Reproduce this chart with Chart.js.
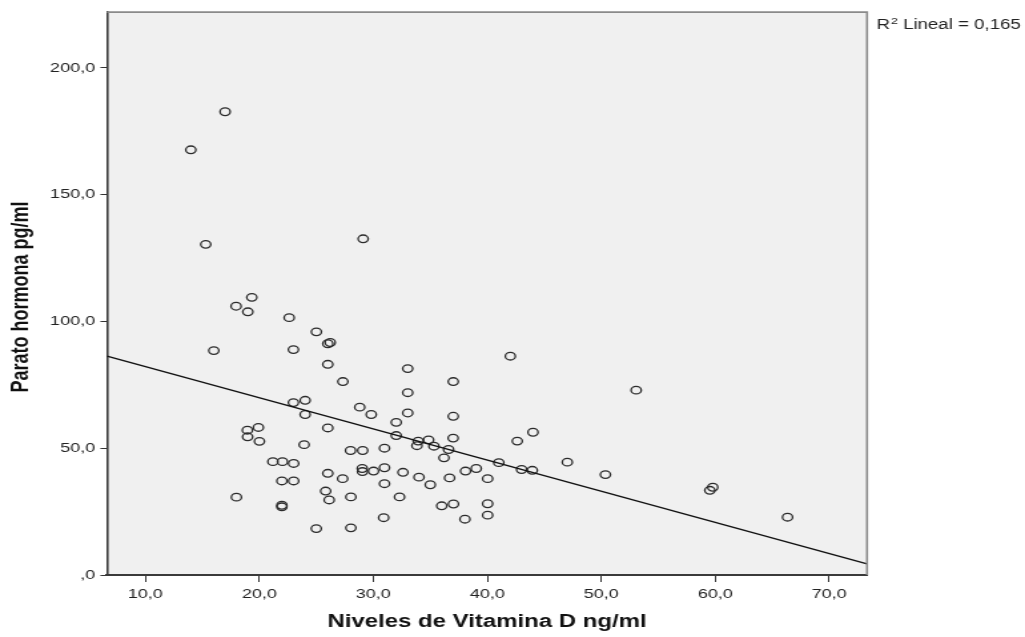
<!DOCTYPE html>
<html>
<head>
<meta charset="utf-8">
<script src="https://cdn.jsdelivr.net/npm/chart.js@4/dist/chart.umd.min.js"></script>
<style>
  html, body { margin: 0; padding: 0; background: #ffffff; overflow: hidden; }
  /* the chart is laid out on a narrower canvas and widened to the page width */
  #wrap { position: absolute; left: 0; top: 0; width: 770px; height: 637px;
          transform: scale(1.33117, 1); transform-origin: 0 0; }
  canvas { display: block; }
</style>
</head>
<body>
<div id="wrap"><canvas id="c" width="770" height="637"></canvas></div>
<script>
// Niveles de vitamina D (ng/ml) and parathormone (pg/ml), one entry per patient
const vitaminD = [
  17.0, 13.99, 15.3, 29.11, 19.34, 17.96, 18.99, 22.62, 25.01, 26.01,
  26.22, 16.01, 22.99, 26.01, 33.02, 27.33, 37.01, 33.02, 24.02, 22.99,
  24.02, 28.81, 29.82, 33.02, 37.01, 32.01, 19.92, 18.95, 18.97, 20.01,
  26.01, 32.01, 37.0, 23.93, 33.94, 34.85, 33.83, 35.32, 36.6, 36.2,
  30.98, 28.0, 29.07, 41.01, 21.19, 22.03, 23.01, 26.01, 27.31, 29.03,
  29.05, 30.02, 30.98, 32.6, 34.01, 35.0, 36.69, 38.09, 39.03, 40.03,
  21.98, 23.01, 30.98, 17.99, 25.82, 26.13, 28.03, 32.3, 21.98, 21.98,
  36.0, 37.03, 40.03, 30.91, 38.04, 40.03, 25.0, 28.03, 42.02, 53.06,
  44.01, 42.63, 43.01, 43.95, 47.02, 50.36, 59.78, 59.52, 66.34
];
const pth = [
  182.7, 167.7, 130.4, 132.6, 109.5, 106.0, 103.8, 101.5, 95.9, 91.2,
  91.7, 88.5, 88.9, 83.1, 81.4, 76.3, 76.3, 71.9, 68.9, 68.0,
  63.3, 66.2, 63.3, 63.9, 62.6, 60.2, 58.2, 57.1, 54.5, 52.7,
  58.0, 55.0, 54.0, 51.4, 52.8, 53.3, 51.0, 50.8, 49.5, 46.2,
  50.0, 49.1, 49.1, 44.3, 44.7, 44.7, 44.0, 40.1, 38.0, 42.0,
  40.8, 41.0, 42.3, 40.5, 38.6, 35.6, 38.3, 41.0, 42.0, 38.0,
  37.1, 37.1, 36.0, 30.7, 33.1, 29.6, 30.8, 30.8, 27.5, 26.9,
  27.3, 28.0, 28.1, 22.6, 22.0, 23.6, 18.3, 18.6, 86.3, 72.9,
  56.3, 52.8, 41.6, 41.3, 44.5, 39.6, 34.6, 33.4, 22.8
];

// Axis ticks and labels
const xTickValues = [10, 20, 30, 40, 50, 60, 70];
const xTickLabels = ['10,0', '20,0', '30,0', '40,0', '50,0', '60,0', '70,0'];
const yTickValues = [0, 50, 100, 150, 200];
const yTickLabels = [',0', '50,0', '100,0', '150,0', '200,0'];
const xRange = [6.64, 73.31];
const yRange = [0, 222];

// Linear fit line
const fitIntercept = 94.45;
const fitSlope = -1.229;
const fitLabel = ['R', '2', ' Lineal = 0,165'];

const xTitle = 'Niveles de Vitamina D ng/ml';
const yTitle = 'Parato hormona pg/ml';

const FONT = '"Liberation Sans", Arial, Helvetica, sans-serif';

const points = vitaminD.map((x, i) => ({ x: x, y: pth[i] }));
const fitLine = xRange.map(x => ({ x: x, y: fitIntercept + fitSlope * x }));

const frame = {
  id: 'frame',
  beforeDraw(chart) {
    const a = chart.chartArea, ctx = chart.ctx;
    ctx.save();
    ctx.fillStyle = '#f0f0f0';
    ctx.fillRect(a.left, a.top, a.right - a.left, a.bottom - a.top);
    ctx.restore();
  },
  afterDraw(chart) {
    const a = chart.chartArea, ctx = chart.ctx;
    ctx.save();
    // top and right edges of the plot frame
    ctx.strokeStyle = '#8a8a8a';
    ctx.lineWidth = 1.6;
    ctx.beginPath();
    ctx.moveTo(a.left, a.top);
    ctx.lineTo(a.right, a.top);
    ctx.lineTo(a.right, a.bottom);
    ctx.stroke();

    // axis titles
    ctx.fillStyle = '#111';
    ctx.font = 'bold 18px ' + FONT;
    ctx.textAlign = 'center';
    ctx.textBaseline = 'middle';
    ctx.fillText(xTitle, (a.left + a.right) / 2, 622);

    ctx.save();
    ctx.translate(16.5, 297);
    ctx.rotate(-Math.PI / 2);
    ctx.font = 'bold 18px ' + FONT;
    ctx.fillText(yTitle, 0, 0);
    ctx.restore();

    // fit legend text
    ctx.textAlign = 'left';
    ctx.textBaseline = 'alphabetic';
    ctx.fillStyle = '#222';
    let x = 658.6;
    ctx.font = '14px ' + FONT;
    ctx.fillText(fitLabel[0], x, 28.5);
    x += ctx.measureText(fitLabel[0]).width + 0.5;
    ctx.font = '9.5px ' + FONT;
    ctx.fillText(fitLabel[1], x, 23.5);
    x += ctx.measureText(fitLabel[1]).width;
    ctx.font = '14px ' + FONT;
    ctx.fillText(fitLabel[2], x, 28.5);
    ctx.restore();
  }
};

new Chart(document.getElementById('c'), {
  data: {
    datasets: [
      {
        type: 'scatter',
        data: points,
        pointStyle: 'circle',
        pointRadius: 3.8,
        pointBorderWidth: 1.3,
        pointBorderColor: '#2b2b2b',
        pointBackgroundColor: 'rgba(0,0,0,0)',
        order: 2
      },
      {
        type: 'line',
        data: fitLine,
        borderColor: '#111',
        borderWidth: 1.4,
        pointRadius: 0,
        fill: false,
        order: 1
      }
    ]
  },
  options: {
    responsive: false,
    animation: false,
    devicePixelRatio: 1,
    layout: { padding: { left: 0, top: 11, right: 118.7, bottom: 0 } },
    plugins: { legend: { display: false }, tooltip: { enabled: false } },
    scales: {
      x: {
        type: 'linear',
        min: xRange[0],
        max: xRange[1],
        afterBuildTicks: s => { s.ticks = xTickValues.map(v => ({ value: v })); },
        afterFit: s => { s.height = 62; },
        ticks: {
          autoSkip: false, maxRotation: 0, padding: 4,
          color: '#222', font: { family: FONT, size: 13.5 },
          callback: (v, i) => xTickLabels[i]
        },
        grid: { display: true, drawOnChartArea: false, drawTicks: true, tickLength: 7, color: '#333', lineWidth: 1 },
        border: { display: true, color: '#3a3a3a', width: 2 }
      },
      y: {
        type: 'linear',
        min: yRange[0],
        max: yRange[1],
        afterBuildTicks: s => { s.ticks = yTickValues.map(v => ({ value: v })); },
        afterFit: s => { s.width = 80.4; },
        ticks: {
          autoSkip: false, padding: 4,
          color: '#222', font: { family: FONT, size: 13.5 },
          callback: (v, i) => yTickLabels[i]
        },
        grid: { display: true, drawOnChartArea: false, drawTicks: true, tickLength: 5, color: '#333', lineWidth: 1 },
        border: { display: true, color: '#3a3a3a', width: 1.6 }
      }
    }
  },
  plugins: [frame]
});
</script>
</body>
</html>
